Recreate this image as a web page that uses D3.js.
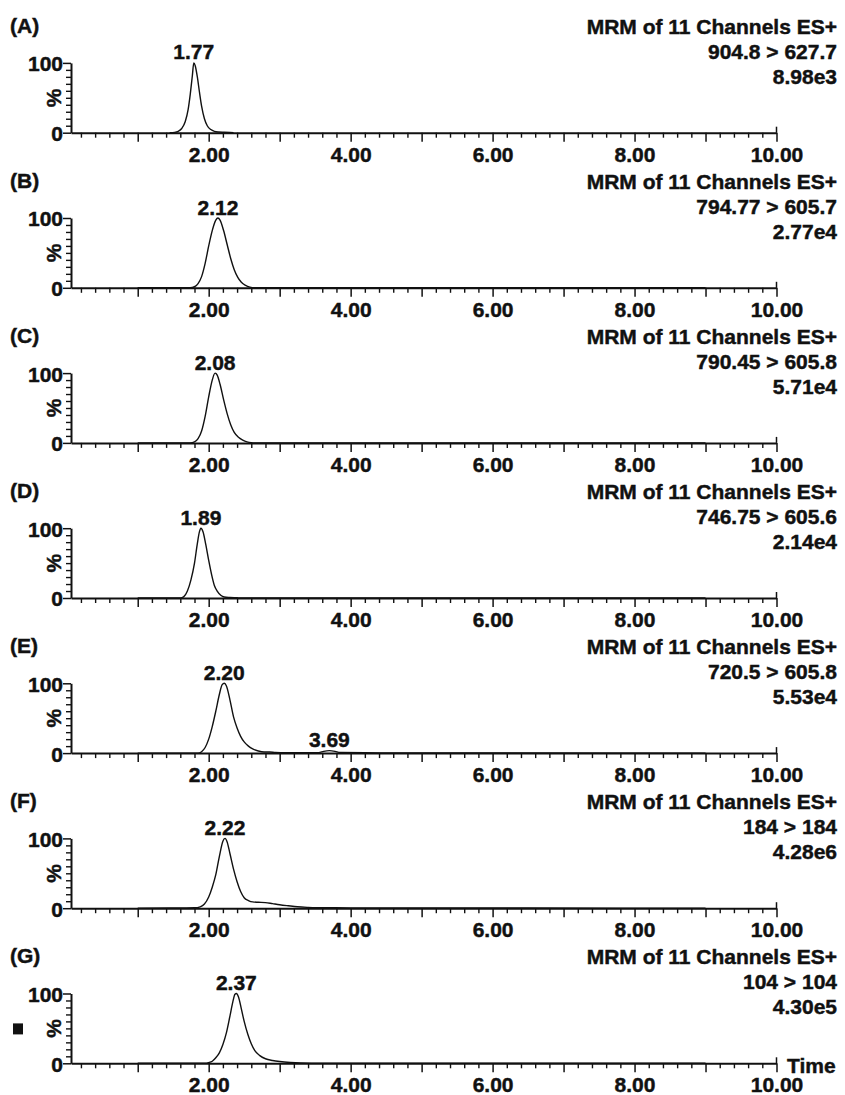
<!DOCTYPE html>
<html>
<head>
<meta charset="utf-8">
<script src="https://cdn.jsdelivr.net/npm/d3@7"></script>
<style>
  body { margin: 0; background: #fff; }
  text { font-family: "Liberation Sans", Arial, sans-serif; font-weight: bold; fill: #111; stroke: #111; stroke-width: 0.45px; }
  .axis path, .axis line { stroke: #111; }
</style>
</head>
<body>
<div class="chart"></div>
<script>

const panelNames = ['(A)', '(B)', '(C)', '(D)', '(E)', '(F)', '(G)'];
const header = 'MRM of 11 Channels ES+';
const transitions = ['904.8 > 627.7', '794.77 > 605.7', '790.45 > 605.8', '746.75 > 605.6', '720.5 > 605.8', '184 > 184', '104 > 104'];
const intensities = ['8.98e3', '2.77e4', '5.71e4', '2.14e4', '5.53e4', '4.28e6', '4.30e5'];

// [time (min), relative intensity (%)]
const traceA = [[1.45,0],[1.52,0.5],[1.57,2],[1.62,6],[1.67,16],[1.71,33],[1.74,55],[1.77,82],[1.79,100],[1.81,96],[1.84,80],[1.87,58],[1.90,38],[1.94,20],[1.98,10],[2.03,4.5],[2.08,2],[2.14,1],[2.22,0.6],[2.30,0.2],[2.35,0]];
const traceB = [[1.0,0],[1.74,0],[1.80,1.5],[1.85,6],[1.90,16],[1.95,35],[2.00,60],[2.05,82],[2.10,97],[2.13,100],[2.16,97],[2.21,82],[2.26,62],[2.31,42],[2.36,26],[2.41,15],[2.46,8],[2.52,3.5],[2.58,1],[2.64,0],[9.0,0]];
const traceC = [[1.0,0],[1.74,0],[1.80,1.5],[1.85,6],[1.90,17],[1.95,38],[2.00,66],[2.05,90],[2.09,100],[2.12,97],[2.16,84],[2.21,62],[2.26,42],[2.31,26],[2.36,15],[2.42,8],[2.48,4],[2.54,1.5],[2.60,0.3],[2.65,0],[9.0,0]];
const traceD = [[1.0,0],[1.60,0],[1.65,2],[1.70,10],[1.75,26],[1.80,50],[1.84,78],[1.87,95],[1.89,100],[1.92,95],[1.96,76],[2.00,54],[2.04,34],[2.08,18],[2.12,10],[2.17,4],[2.22,1.5],[2.30,0.8],[2.40,0.3],[2.45,0],[9.0,0]];
const traceE = [[1.0,0],[1.85,0],[1.90,2],[1.95,8],[2.00,20],[2.05,38],[2.10,60],[2.15,84],[2.19,98],[2.22,100],[2.25,96],[2.30,76],[2.35,52],[2.40,36],[2.45,24],[2.50,16],[2.56,10],[2.62,6],[2.70,3],[2.78,1.5],[2.86,1.5],[2.94,0.8],[3.10,0.5],[3.40,0.4],[3.55,0.6],[3.62,2.5],[3.70,3.5],[3.78,2.5],[3.85,0.8],[4.20,0.5],[4.70,0.3],[9.0,0]];
const traceF = [[1.0,0],[1.60,0.3],[1.80,0.6],[1.88,2],[1.94,6],[2.00,16],[2.05,30],[2.10,48],[2.15,74],[2.20,96],[2.23,100],[2.26,95],[2.30,78],[2.35,56],[2.40,38],[2.45,24],[2.50,15],[2.56,11],[2.62,9],[2.70,8.5],[2.80,8],[2.90,6.5],[3.00,5],[3.12,3.5],[3.25,2],[3.40,1.2],[3.60,0.8],[4.00,0.5],[5.00,0.4],[6.50,0.2],[9.0,0]];
const traceG = [[1.0,0],[1.95,0],[2.00,1],[2.05,3],[2.10,8],[2.15,15],[2.20,27],[2.25,44],[2.30,68],[2.34,88],[2.37,99],[2.39,100],[2.42,95],[2.46,78],[2.50,60],[2.55,42],[2.60,28],[2.65,18],[2.72,11],[2.80,6.5],[2.90,4],[3.00,2.5],[3.15,1.2],[3.30,0.6],[3.60,0.3],[9.0,0]];
const traces = [traceA, traceB, traceC, traceD, traceE, traceF, traceG];

// peak apex time and printed retention time
const peakLabels = [
  [[1.79, '1.77']],
  [[2.13, '2.12']],
  [[2.09, '2.08']],
  [[1.89, '1.89']],
  [[2.22, '2.20'], [3.70, '3.69']],
  [[2.23, '2.22']],
  [[2.39, '2.37']]
];

const minorTimes = d3.range(2, 100, 2).map(d => d / 10).filter(d => d % 1 !== 0);
const majorTimes = d3.range(1, 11);
const labelTimes = [2, 4, 6, 8, 10];
const yMinor = d3.range(10, 100, 10);

const width = 845, height = 1095;
const firstZero = 132.7, panelStep = 155.1, panelH = 69.8;

const svg = d3.select('.chart')
  .append('svg')
  .attr('width', width)
  .attr('height', height);

const x = d3.scaleLinear().domain([0.06, 10]).range([71, 776.5]);

const line = d3.line()
  .x(d => x(d[0]))
  .curve(d3.curveMonotoneX);

traces.forEach((trace, i) => {
  const y0 = firstZero + i * panelStep;
  const y = d3.scaleLinear().domain([0, 100]).range([y0, y0 - panelH]);
  const g = svg.append('g');

  // x axis: minor ticks, major ticks, labels
  g.append('g')
    .attr('class', 'axis')
    .attr('transform', `translate(0, ${y0})`)
    .call(d3.axisBottom(x).tickValues(minorTimes).tickSize(5).tickSizeOuter(0).tickFormat(''))
    .call(a => a.select('.domain').attr('stroke-width', 2))
    .call(a => a.selectAll('line').attr('stroke-width', 1.4));

  g.append('g')
    .attr('class', 'axis')
    .attr('transform', `translate(0, ${y0})`)
    .call(d3.axisBottom(x).tickValues(majorTimes).tickSize(9).tickPadding(5)
      .tickFormat(d => labelTimes.includes(d) ? d3.format('.2f')(d) : ''))
    .call(a => a.select('.domain').remove())
    .call(a => a.selectAll('line').attr('stroke-width', 1.5))
    .call(a => a.selectAll('text').style('font-size', '21px').attr('fill', '#111'));

  g.append('line')
    .attr('x1', x(10)).attr('x2', x(10))
    .attr('y1', y0).attr('y2', y0 - 6)
    .attr('stroke', '#111').attr('stroke-width', 1.5);

  // y axis
  g.append('g')
    .attr('class', 'axis')
    .attr('transform', `translate(${x(0.06)}, 0)`)
    .call(d3.axisLeft(y).tickValues(yMinor).tickSize(5).tickSizeOuter(0).tickFormat(''))
    .call(a => a.select('.domain').attr('stroke-width', 2))
    .call(a => a.selectAll('line').attr('stroke-width', 1.4));

  g.append('g')
    .attr('class', 'axis')
    .attr('transform', `translate(${x(0.06)}, 0)`)
    .call(d3.axisLeft(y).tickValues([0, 100]).tickSize(8).tickPadding(0))
    .call(a => a.select('.domain').remove())
    .call(a => a.selectAll('line').attr('stroke-width', 1.5))
    .call(a => a.selectAll('text').style('font-size', '21px').attr('fill', '#111').attr('dy', '0.38em'));

  g.append('text')
    .attr('transform', `translate(61, ${y(50)}) rotate(-90)`)
    .attr('text-anchor', 'middle')
    .style('font-size', '21px')
    .text('%');

  // trace
  g.append('path')
    .datum(trace)
    .attr('d', line.y(d => y(d[1])))
    .attr('fill', 'none')
    .attr('stroke', '#111')
    .attr('stroke-width', 1.4);

  // peak labels
  peakLabels[i].forEach(([t, label]) => {
    const pt = trace.find(d => d[0] === t);
    g.append('text')
      .attr('x', x(t))
      .attr('y', y(pt[1]) - 3.5)
      .attr('text-anchor', 'middle')
      .style('font-size', '21px')
      .text(label);
  });

  // panel letter and channel info
  g.append('text')
    .attr('x', 10)
    .attr('y', y0 - 100)
    .style('font-size', '21px')
    .text(panelNames[i]);

  const info = [header, transitions[i], intensities[i]];
  info.forEach((s, k) => {
    g.append('text')
      .attr('x', 837)
      .attr('y', y0 - 99 + k * 25)
      .attr('text-anchor', 'end')
      .style('font-size', '21px')
      .text(s);
  });

  if (i === traces.length - 1) {
    g.append('text')
      .attr('x', 787)
      .attr('y', y0 + 10)
      .style('font-size', '21px')
      .text('Time');

    g.append('rect')
      .attr('x', 13)
      .attr('y', y(50) - 5)
      .attr('width', 10)
      .attr('height', 11)
      .attr('fill', '#111');
  }
});

</script>
</body>
</html>
